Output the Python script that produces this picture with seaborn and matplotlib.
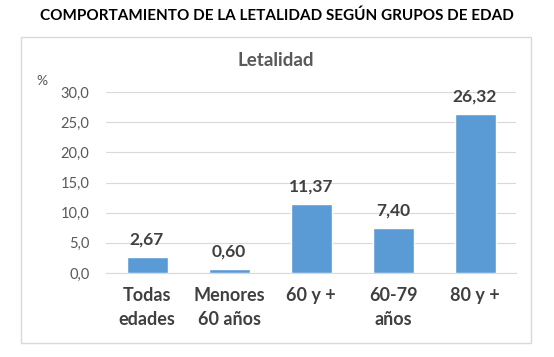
import pandas as pd
import seaborn as sns
import matplotlib.pyplot as plt
from matplotlib.patches import Rectangle

# data
grupos = ["Todas\nedades", "Menores\n60 años", "60 y +", "60-79\naños", "80 y +"]
letalidad = [2.67, 0.60, 11.37, 7.40, 26.32]
etiquetas = ["2,67", "0,60", "11,37", "7,40", "26,32"]
yticks = [0, 5, 10, 15, 20, 25, 30]

df = pd.DataFrame({"grupo": grupos, "letalidad": letalidad})

sns.set_style("white")
plt.rcParams["font.family"] = ["Lato", "DejaVu Sans"]

fig = plt.figure(figsize=(5.54, 3.57), dpi=100)
ax = fig.add_axes([106 / 554, 1 - 273 / 357, 410 / 554, 181 / 357])

sns.barplot(data=df, x="grupo", y="letalidad", color="#5B9BD5", width=0.5,
            saturation=1, ax=ax, zorder=3)

# value labels
for i, (v, t) in enumerate(zip(letalidad, etiquetas)):
    ax.text(i, v + 1.6, t, ha="center", va="bottom", fontsize=12.5,
            fontweight="bold", color="#404040")

ax.set_ylim(0, 30)
ax.set_yticks(yticks)
ax.set_yticklabels([f"{t:.1f}".replace(".", ",") for t in yticks],
                   fontsize=10.5, color="#595959")
ax.yaxis.grid(True, color="#D9D9D9", linewidth=0.8, zorder=0)
ax.tick_params(axis="x", labelsize=13, labelcolor="#404040", length=0, pad=10)
ax.tick_params(axis="y", length=0, pad=12)
for lbl in ax.get_xticklabels():
    lbl.set_fontweight("bold")
    lbl.set_linespacing(1.5)
ax.set_xlabel("")
ax.set_ylabel("")
for s in ["top", "right", "left"]:
    ax.spines[s].set_visible(False)
ax.spines["bottom"].set_color("#D9D9D9")

# chart area frame
fig.patches.append(Rectangle((21 / 554, 1 - 343 / 357), 510 / 554, 306 / 357,
                             transform=fig.transFigure, fill=False,
                             edgecolor="#D9D9D9", linewidth=1))

fig.text(277 / 554, 1 - 16 / 357, "COMPORTAMIENTO DE LA LETALIDAD SEGÚN GRUPOS DE EDAD",
         ha="center", va="center", fontsize=11, fontweight="bold", color="black")
fig.text(276 / 554, 1 - 60 / 357, "Letalidad", ha="center", va="center",
         fontsize=13.5, fontweight="bold", color="#595959")
fig.text(42 / 554, 1 - 81 / 357, "%", ha="center", va="center",
         fontsize=10, color="#595959")

fig.savefig("out.png", dpi=100, facecolor="white")
